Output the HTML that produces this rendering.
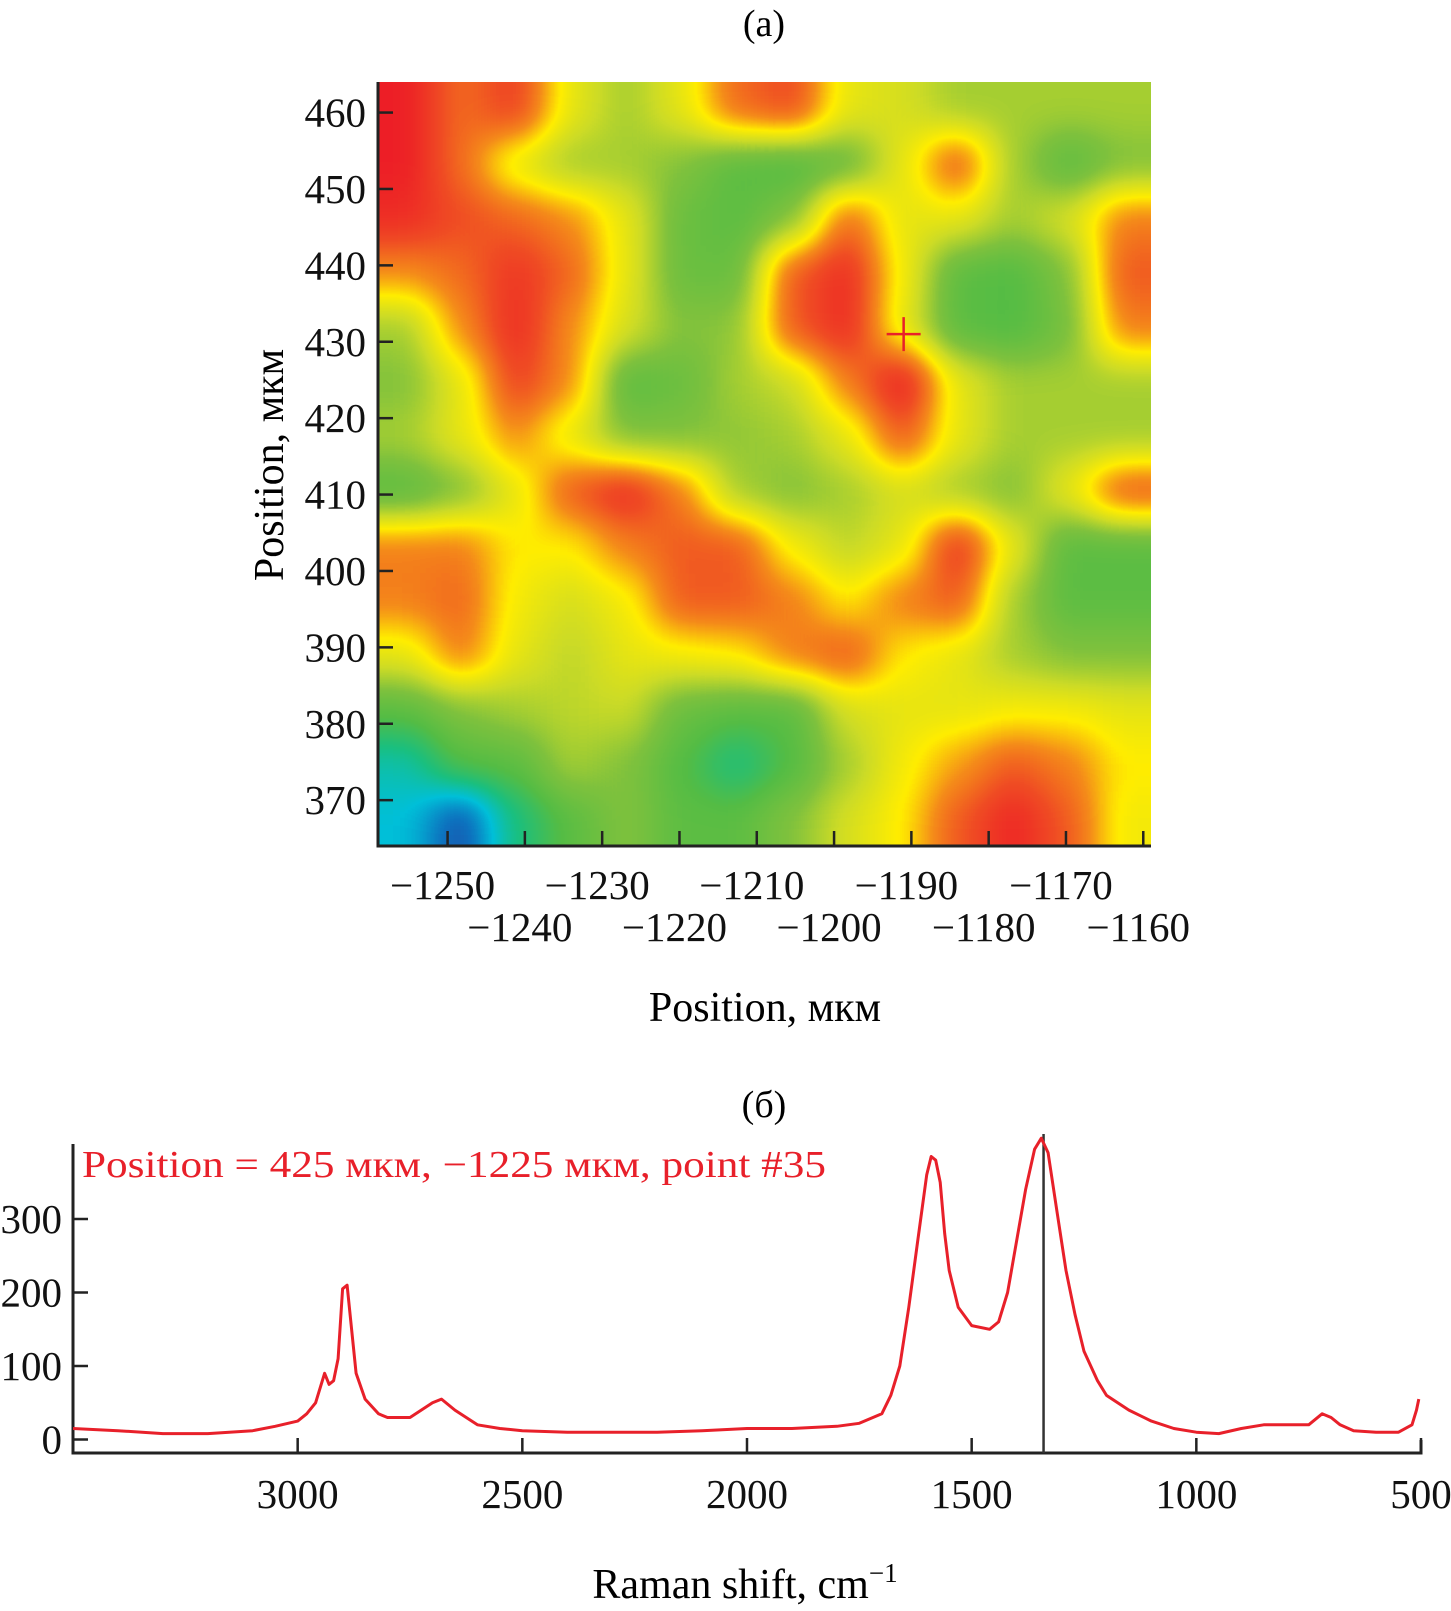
<!DOCTYPE html>
<html><head><meta charset="utf-8"><style>
html,body{margin:0;padding:0;background:#fff;}
svg{display:block;font-family:"Liberation Serif","Noto Serif CJK SC",serif;}
</style></head><body>
<svg id="fig" width="1451" height="1611" viewBox="0 0 1451 1611" xmlns="http://www.w3.org/2000/svg">
<defs>
<filter id="cmap" filterUnits="userSpaceOnUse" x="300" y="0" width="950" height="930" color-interpolation-filters="sRGB">
<feGaussianBlur stdDeviation="20"/>
<feComponentTransfer>
<feFuncR type="table" tableValues="0.17 0.05 0 0.1 0.33 0.5 0.8 1 0.96 0.94 0.93"/>
<feFuncG type="table" tableValues="0.2 0.45 0.75 0.75 0.74 0.76 0.86 0.93 0.55 0.3 0.12"/>
<feFuncB type="table" tableValues="0.6 0.75 0.85 0.5 0.27 0.24 0.15 0 0.1 0.14 0.15"/>
</feComponentTransfer>
</filter>
<clipPath id="hclip"><rect x="378" y="82" width="773" height="764"/></clipPath>
<clipPath id="sclip"><rect x="73" y="1134" width="1360" height="330"/></clipPath>
</defs>
<g id="heat" clip-path="url(#hclip)"><g id="heatcells" filter="url(#cmap)"></g></g>
<g id="axA"></g>
<g id="axB"></g>
<text x="764" y="36" font-size="38" text-anchor="middle">(a)</text>
<text x="765" y="1021" font-size="42" text-anchor="middle">Position, мкм</text>
<text transform="translate(283,465) rotate(-90)" font-size="42" text-anchor="middle">Position, мкм</text>
<text x="764" y="1117" font-size="38" text-anchor="middle">(б)</text>
<text x="82" y="1177" font-size="38" fill="#e8202a" textLength="744" lengthAdjust="spacingAndGlyphs">Position = 425 мкм, −1225 мкм, point #35</text>
<text x="745" y="1598" font-size="42" text-anchor="middle">Raman shift, cm<tspan font-size="27" dy="-16">−1</tspan></text>
</svg>
<script>
// ---- heatmap data (14 x 14 grid, rows top->bottom, normalized intensity 0..1) ----
const heatXRange = [-1259, -1159];
const heatYRange = [464, 364];
const heatRows = [
[1.0,0.85,0.92,0.65,0.55,0.65,0.85,0.9,0.65,0.62,0.55,0.55,0.55,0.55],
[1.0,0.85,0.65,0.55,0.55,0.5,0.42,0.4,0.45,0.65,0.88,0.55,0.42,0.5],
[0.97,0.9,0.86,0.8,0.65,0.45,0.42,0.5,0.85,0.65,0.65,0.55,0.62,0.82],
[0.8,0.85,0.95,0.86,0.65,0.45,0.45,0.88,0.97,0.68,0.42,0.4,0.5,0.88],
[0.55,0.8,0.97,0.8,0.62,0.5,0.52,0.88,0.97,0.65,0.42,0.4,0.48,0.82],
[0.5,0.65,0.92,0.8,0.42,0.45,0.55,0.6,0.82,1.0,0.65,0.55,0.55,0.55],
[0.55,0.65,0.8,0.65,0.5,0.5,0.52,0.55,0.65,0.88,0.65,0.55,0.55,0.55],
[0.42,0.5,0.65,0.88,0.97,0.82,0.55,0.5,0.55,0.62,0.55,0.5,0.65,0.88],
[0.82,0.82,0.7,0.7,0.82,0.88,0.88,0.68,0.58,0.65,0.95,0.65,0.42,0.42],
[0.82,0.86,0.68,0.62,0.68,0.88,0.88,0.82,0.7,0.82,0.88,0.55,0.42,0.42],
[0.65,0.82,0.65,0.58,0.65,0.68,0.7,0.82,0.88,0.7,0.65,0.55,0.5,0.5],
[0.42,0.5,0.55,0.58,0.6,0.45,0.42,0.42,0.62,0.65,0.65,0.68,0.68,0.65],
[0.25,0.4,0.42,0.55,0.5,0.4,0.3,0.4,0.55,0.68,0.78,0.88,0.82,0.7],
[0.2,0.05,0.3,0.42,0.5,0.42,0.42,0.5,0.62,0.7,0.88,0.98,0.88,0.68]
];
const markerPos = [-1191, 431];
const mapXTicks = [-1250,-1240,-1230,-1220,-1210,-1200,-1190,-1180,-1170,-1160];
const mapYTicks = [370,380,390,400,410,420,430,440,450,460];

// ---- spectrum data ----
const shift = [3500,3400,3300,3200,3100,3050,3000,2980,2960,2940,2930,2920,2910,2900,2890,2880,2870,2850,2820,2800,2750,2700,2680,2650,2600,2550,2500,2400,2300,2200,2100,2000,1900,1800,1750,1700,1680,1660,1640,1620,1600,1590,1580,1570,1560,1550,1530,1500,1460,1440,1420,1400,1380,1360,1345,1330,1310,1290,1270,1250,1220,1200,1150,1100,1050,1000,950,900,850,800,750,720,700,680,650,600,550,520,510,505];
const intensity = [15,12,8,8,12,18,25,35,50,90,75,80,110,205,210,150,90,55,35,30,30,50,55,40,20,15,12,10,10,10,12,15,15,18,22,35,60,100,180,270,360,385,380,350,280,230,180,155,150,160,200,270,340,395,410,390,310,230,170,120,80,60,40,25,15,10,8,15,20,20,20,35,30,20,12,10,10,20,40,55];
const specXTicks = [3000,2500,2000,1500,1000,500];
const specYTicks = [0,100,200,300];
const markerShift = 1340;

const NS="http://www.w3.org/2000/svg";
function mk(tag, attrs, parent){const e=document.createElementNS(NS,tag);for(const k in attrs)e.setAttribute(k,attrs[k]);parent.appendChild(e);return e;}

const hx = v => 378 + (v - heatXRange[0]) / (heatXRange[1]-heatXRange[0]) * 773;
const hy = v => 82 + (heatYRange[0] - v) / (heatYRange[0]-heatYRange[1]) * 764;

const cells = document.getElementById('heatcells');
const nR = heatRows.length, nC = heatRows[0].length;
const cw = (hx(heatXRange[1]) - hx(heatXRange[0])) / nC;
const ch = (hy(heatYRange[1]) - hy(heatYRange[0])) / nR;
for (let r = -2; r < nR + 2; r++) {
  for (let c = -2; c < nC + 2; c++) {
    const rr = Math.min(nR-1, Math.max(0, r)), cc = Math.min(nC-1, Math.max(0, c));
    const g = Math.round(heatRows[rr][cc]*255);
    const rect = mk('rect', {x: hx(heatXRange[0]) + c*cw, y: hy(heatYRange[0]) + r*ch, width: cw+0.6, height: ch+0.6, fill: `rgb(${g},${g},${g})`}, cells);
    
    
  }
}

const axA = document.getElementById('axA');
const al = mk('path', {d:`M378,82 V846 H1151`, fill:'none', stroke:'#222', 'stroke-width':3}, axA);


mapXTicks.forEach((t,i)=>{
  const x = hx(t);
  const tk = mk('line',{x1:x,x2:x,y1:846,y2:831,stroke:'#222','stroke-width':2.5},axA);
  
  
  const lb = mk('text',{x:x-5,y:(i%2===0)?899:941,'font-size':41,'text-anchor':'middle',fill:'#111'},axA);
  lb.textContent = '−' + Math.abs(t);
  
  
});
mapYTicks.forEach(t=>{
  const y = hy(t);
  const tk = mk('line',{x1:378,x2:393,y1:y,y2:y,stroke:'#222','stroke-width':2.5},axA);
  
  
  const lb = mk('text',{x:366,y:y+14,'font-size':41,'text-anchor':'end',fill:'#111'},axA);
  lb.textContent = t;
  
  
});
const mx = hx(markerPos[0]), my = hy(markerPos[1]);
const cross = mk('path',{d:`M${mx-17},${my} H${mx+17} M${mx},${my-17} V${my+17}`,stroke:'#e8202a','stroke-width':2.5,fill:'none'},axA);



const sx = v => 73 + (3500 - v) / 3000 * (1421 - 73);
const sy = v => 1439.5 - v * 0.735;
const axB = document.getElementById('axB');
const bl = mk('path',{d:`M73,1144 V1453 H1421 V1440`,fill:'none',stroke:'#222','stroke-width':3},axB);


specXTicks.forEach(t=>{
  const x=sx(t);
  const tk=mk('line',{x1:x,x2:x,y1:1453,y2:1438,stroke:'#222','stroke-width':2.5},axB);
  
  
  const lb=mk('text',{x:x,y:1508,'font-size':41,'text-anchor':'middle',fill:'#111'},axB);
  lb.textContent=t;
  
  
});
specYTicks.forEach(t=>{
  const y=sy(t);
  const tk=mk('line',{x1:73,x2:88,y1:y,y2:y,stroke:'#222','stroke-width':2.5},axB);
  
  
  const lb=mk('text',{x:62,y:y+14,'font-size':41,'text-anchor':'end',fill:'#111'},axB);
  lb.textContent=t;
  
  
});
const vl = mk('line',{x1:sx(markerShift),x2:sx(markerShift),y1:1134,y2:1453,stroke:'#333','stroke-width':2.5},axB);


let d='';
shift.forEach((s,i)=>{ d += (i?'L':'M') + sx(s).toFixed(1) + ',' + sy(intensity[i]).toFixed(1); });
const sp = mk('path',{d:d,fill:'none',stroke:'#e8202a','stroke-width':3,'stroke-linejoin':'round','clip-path':'url(#sclip)'},axB);


</script>
</body></html>
